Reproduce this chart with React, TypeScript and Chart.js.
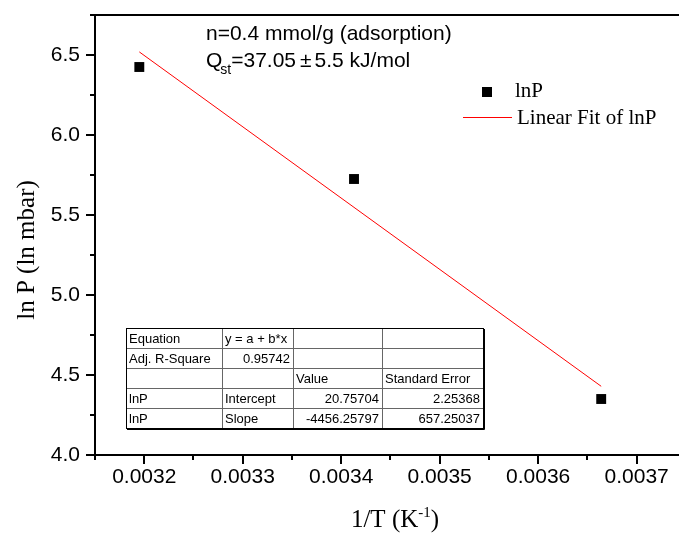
import React, { useEffect, useRef } from "react";
import { Chart, registerables } from "chart.js";

Chart.register(...registerables);

// ---- data ----
const invT = [0.003195, 0.003413, 0.003664];
const lnP = [6.425, 5.725, 4.35];
const fitIntercept = 20.75704;
const fitSlope = -4456.25797;

const xTickValues = [0.0032, 0.0033, 0.0034, 0.0035, 0.0036, 0.0037];
const xMinorValues = [0.00315, 0.00325, 0.00335, 0.00345, 0.00355, 0.00365];
const yTickValues = [4.0, 4.5, 5.0, 5.5, 6.0, 6.5];
const yMinorValues = [4.25, 4.75, 5.25, 5.75, 6.25, 6.75];
const xMin = 0.00315;
const xMax = 0.003743;
const yMin = 4.0;
const yMax = 6.75;

const annotationLine1 = "n=0.4 mmol/g (adsorption)";
const tableRows = [
  ["Equation", "y = a + b*x", "", ""],
  ["Adj. R-Square", "0.95742", "", ""],
  ["", "", "Value", "Standard Error"],
  ["lnP", "Intercept", "20.75704", "2.25368"],
  ["lnP", "Slope", "-4456.25797", "657.25037"],
];

const SANS = "Arial, 'Liberation Sans', sans-serif";
const SERIF = "'Times New Roman', 'Liberation Serif', serif";

export default function App() {
  const ref = useRef<HTMLCanvasElement>(null);

  useEffect(() => {
    const canvas = ref.current!;
    const fitLine = [invT[0], invT[invT.length - 1]].map((x) => ({ x, y: fitIntercept + fitSlope * x }));

    const overlay = {
      id: "overlay",
      afterDraw(chart: any) {
        const ctx = chart.ctx as CanvasRenderingContext2D;
        const { left, right, top, bottom } = chart.chartArea;
        const xs = chart.scales.x;
        const ys = chart.scales.y;
        ctx.save();
        ctx.strokeStyle = "#000";
        ctx.fillStyle = "#000";
        // frame
        ctx.lineWidth = 2;
        ctx.beginPath();
        ctx.moveTo(left, top);
        ctx.lineTo(right, top);
        ctx.moveTo(left, top - 1);
        ctx.lineTo(left, bottom + 1);
        ctx.moveTo(left - 1, bottom);
        ctx.lineTo(right, bottom);
        ctx.stroke();
        // ticks
        ctx.lineWidth = 2;
        ctx.beginPath();
        yTickValues.forEach((v) => {
          const y = Math.round(ys.getPixelForValue(v));
          ctx.moveTo(left - 9, y);
          ctx.lineTo(left, y);
        });
        yMinorValues.forEach((v) => {
          const y = Math.round(ys.getPixelForValue(v));
          ctx.moveTo(left - 5, y);
          ctx.lineTo(left, y);
        });
        xTickValues.forEach((v) => {
          const x = Math.round(xs.getPixelForValue(v));
          ctx.moveTo(x, bottom);
          ctx.lineTo(x, bottom + 9);
        });
        xMinorValues.forEach((v) => {
          const x = Math.round(xs.getPixelForValue(v));
          ctx.moveTo(x, bottom);
          ctx.lineTo(x, bottom + 5);
        });
        ctx.stroke();

        // axis titles
        ctx.font = `25px ${SERIF}`;
        ctx.textAlign = "center";
        ctx.textBaseline = "middle";
        ctx.save();
        ctx.translate(27, 250);
        ctx.rotate(-Math.PI / 2);
        ctx.fillText("ln P (ln mbar)", 0, 0);
        ctx.restore();

        ctx.textAlign = "left";
        ctx.textBaseline = "alphabetic";
        const p1 = "1/T (K";
        const sup = "-1";
        const p2 = ")";
        ctx.font = `25px ${SERIF}`;
        const w1 = ctx.measureText(p1).width;
        const w2 = ctx.measureText(p2).width;
        ctx.font = `15px ${SERIF}`;
        const ws = ctx.measureText(sup).width;
        const total = w1 + ws + w2;
        let tx = 395 - total / 2;
        const ty = 527;
        ctx.font = `25px ${SERIF}`;
        ctx.fillText(p1, tx, ty);
        tx += w1;
        ctx.font = `15px ${SERIF}`;
        ctx.fillText(sup, tx, ty - 10);
        tx += ws;
        ctx.font = `25px ${SERIF}`;
        ctx.fillText(p2, tx, ty);

        // annotation text
        ctx.font = `21px ${SANS}`;
        ctx.fillText(annotationLine1, 206, 40);
        ctx.fillText("Q", 206, 67);
        const qw = ctx.measureText("Q").width;
        ctx.font = `14px ${SANS}`;
        ctx.fillText("st", 206 + qw - 2, 74);
        const sw = ctx.measureText("st").width;
        ctx.font = `21px ${SANS}`;
        let ax = 206 + qw - 2 + sw;
        ctx.fillText("=37.05", ax, 67);
        ax += ctx.measureText("=37.05").width + 4;
        ctx.fillText("\u00B1", ax, 67);
        ax += ctx.measureText("\u00B1").width + 3;
        ctx.fillText("5.5 kJ/mol", ax, 67);

        // legend
        ctx.fillRect(482, 87, 10, 10);
        ctx.font = `21px ${SERIF}`;
        ctx.fillText("lnP", 515, 97);
        ctx.strokeStyle = "#ff0000";
        ctx.lineWidth = 1;
        ctx.beginPath();
        ctx.moveTo(463, 117.5);
        ctx.lineTo(512, 117.5);
        ctx.stroke();
        ctx.fillText("Linear Fit of lnP", 517, 124);

        // table
        const colX = [126, 222, 293, 382, 483];
        const rowY = [328, 348, 368, 388, 408, 428];
        ctx.strokeStyle = "#666";
        ctx.lineWidth = 1;
        ctx.beginPath();
        for (let i = 1; i < rowY.length - 1; i++) {
          ctx.moveTo(colX[0], rowY[i] + 0.5);
          ctx.lineTo(colX[colX.length - 1], rowY[i] + 0.5);
        }
        for (let j = 1; j < colX.length - 1; j++) {
          ctx.moveTo(colX[j] + 0.5, rowY[0]);
          ctx.lineTo(colX[j] + 0.5, rowY[rowY.length - 1]);
        }
        ctx.stroke();
        ctx.strokeStyle = "#000";
        ctx.strokeRect(colX[0] + 0.5, rowY[0] + 0.5, colX[4] - colX[0], rowY[5] - rowY[0]);
        ctx.beginPath();
        ctx.moveTo(colX[4] + 1.5, rowY[0] + 1);
        ctx.lineTo(colX[4] + 1.5, rowY[5] + 1.5);
        ctx.lineTo(colX[0] + 1, rowY[5] + 1.5);
        ctx.stroke();
        ctx.font = `13px ${SANS}`;
        ctx.fillStyle = "#000";
        ctx.textBaseline = "middle";
        tableRows.forEach((row, i) => {
          const cy = (rowY[i] + rowY[i + 1]) / 2 + 1;
          row.forEach((cell, j) => {
            if (!cell) return;
            const numeric = /^-?[0-9.]+$/.test(cell);
            if (numeric) {
              ctx.textAlign = "right";
              ctx.fillText(cell, colX[j + 1] - 3, cy);
            } else {
              ctx.textAlign = "left";
              ctx.fillText(cell, colX[j] + 3, cy);
            }
          });
        });
        ctx.restore();
      },
    };

    const chart = new Chart(canvas, {
      type: "scatter",
      data: {
        datasets: [
          {
            label: "lnP",
            data: invT.map((x, i) => ({ x, y: lnP[i] })),
            pointStyle: "rect",
            pointRadius: 7,
            backgroundColor: "#000",
            borderColor: "#000",
            borderWidth: 0,
          },
          {
            label: "Linear Fit of lnP",
            data: fitLine,
            showLine: true,
            borderColor: "#ff0000",
            borderWidth: 1,
            pointRadius: 0,
            fill: false,
          },
        ],
      },
      options: {
        responsive: false,
        animation: false,
        layout: { padding: { top: 15, left: 0, right: 0, bottom: 0 } },
        plugins: { legend: { display: false }, tooltip: { enabled: false } },
        scales: {
          x: {
            type: "linear",
            min: xMin,
            max: xMax,
            grid: { display: false, drawTicks: false },
            border: { display: false },
            ticks: {
              padding: 10,
              color: "#000",
              font: { family: SANS, size: 21 },
              callback: (v: any) => Number(v).toFixed(4),
            },
            afterBuildTicks: (s: any) => {
              s.ticks = xTickValues.map((v) => ({ value: v }));
            },
            afterFit: (s: any) => {
              s.height = 80;
              s.paddingLeft = 0;
              s.paddingRight = 0;
            },
          },
          y: {
            type: "linear",
            min: yMin,
            max: yMax,
            grid: { display: false, drawTicks: false },
            border: { display: false },
            ticks: {
              padding: 15,
              color: "#000",
              font: { family: SANS, size: 21 },
              callback: (v: any) => Number(v).toFixed(1),
            },
            afterBuildTicks: (s: any) => {
              s.ticks = yTickValues.map((v) => ({ value: v }));
            },
            afterFit: (s: any) => {
              s.width = 95;
              s.paddingTop = 0;
              s.paddingBottom = 0;
            },
          },
        },
      },
      plugins: [overlay],
    } as any);
    return () => chart.destroy();
  }, []);

  return (
    <div style={{ position: "fixed", left: 0, top: 0, width: 686, height: 535, background: "#fff" }}>
      <canvas ref={ref} width={686} height={535} style={{ display: "block" }} />
    </div>
  );
}
